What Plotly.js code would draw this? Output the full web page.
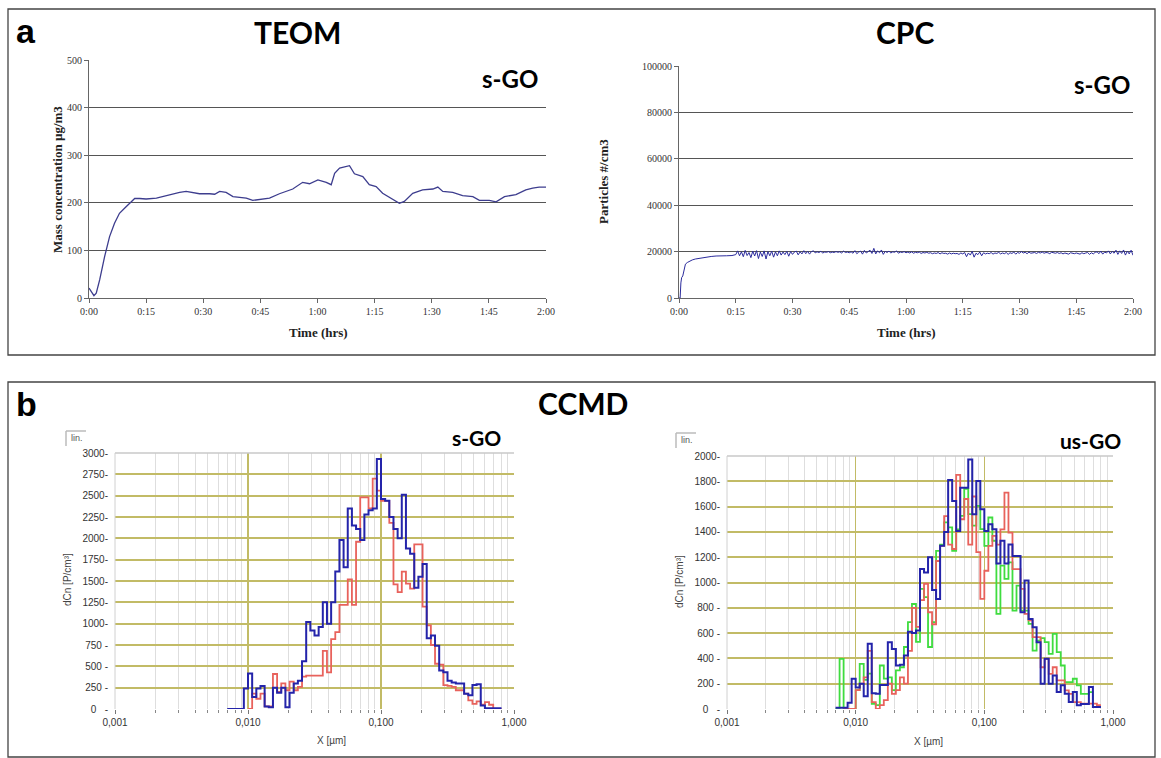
<!DOCTYPE html>
<html><head><meta charset="utf-8">
<script src="https://cdn.plot.ly/plotly-3.0.1.min.js"></script>
<style>html,body{margin:0;padding:0;background:#fff}#chart{width:1161px;height:758px}</style>
</head><body><div id="chart"></div>
<script>
// ---------- TEOM (mass concentration, µg/m3 vs minutes) ----------
const teomMin = [0,0.6,1.3,1.9,2.8,4.1,5.4,6.7,8.0,9.4,10.7,12.0,13.3,15.0,17.7,20.3,22.0,23.8,25.5,27.3,29.0,31.7,33.0,34.3,36.0,37.8,41.3,43.0,44.8,47.4,50.0,53.5,56.1,57.9,60.1,62.3,63.6,64.5,65.8,67.5,68.4,69.7,71.9,73.6,75.4,77.1,79.8,81.5,82.8,85.0,87.6,90.3,91.6,92.9,95.5,98.1,100.8,102.5,105.1,106.9,109.1,112.1,114.7,116.5,118.2,120];
const teomVal = [21,14,5,10,38,87,129,157,178,189,198,209,209,208,210,215,219,222,224,222,219,219,218,224,222,213,210,205,207,210,219,229,243,240,248,243,238,262,273,276,278,261,255,238,234,220,206,199,203,220,227,229,233,224,222,215,213,205,205,202,213,217,227,231,233,233];

// ---------- CPC (particles #/cm3) ----------
const cpcRampMin = [0,0.3,0.5,0.7,1.0,1.3,1.7,2.2,2.8,3.5,4.3,5.2,6.2,7.3,8.5,9.8,11.2,12.6,14.0,15.0];
const cpcRampVal = [0,0,6500,8800,9500,12200,14600,15300,15900,16400,16800,17100,17300,17600,17900,18100,18000,18200,18300,18700];
const cpcLogStartMin = 15.5;   // logged samples after the ramp
const cpcLogStepMin = 0.5;
const cpcLogVal = [
 20300,18200,19900,17800,20500,18300,19600,17400,20200,18100,
 20400,17000,19800,17900,20300,16800,20000,18200,20200,17600,
 19900,18200,20300,18500,19800,18700,20100,18000,20000,18800,
 19800,20200,18600,19900,19000,20400,19100,20100,18900,20000,
 20300,19500,19900,19600,20100,19400,19800,19700,20000,19500,
 19800,19600,20000,19700,19900,19400,20200,19600,19800,19500,
 19900,19300,20400,19100,19800,20200,18900,20500,19400,19900,
 20600,19200,21400,19000,20300,19500,20700,18800,20100,19600,
 20200,19400,19900,19700,20300,19300,19800,19600,20000,19500,
 19800,19400,19900,19300,19700,19500,19800,19200,19600,19400,
 19700,19300,19500,19100,19400,19200,19600,19000,19500,19200,
 19300,18900,19400,19000,19300,19100,19200,18800,19400,19000,
 19600,17800,19400,18500,20100,17600,19300,18700,19800,18200,
 19500,19000,19300,19100,19600,18900,19400,19200,19700,19000,
 19400,19100,19600,18800,19500,19200,19800,18900,19600,19300,
 20000,19400,19700,19100,19800,19300,19500,19600,19200,19700,
 19400,19800,19300,19600,19500,19100,19700,19400,19300,19600,
 19200,19500,19000,19400,19300,18900,19500,19200,19100,19400,
 19300,18900,19500,19100,19400,19600,18800,19500,19000,19700,
 19900,19100,20200,18900,19800,19400,20300,19000,20100,19300,
 20600,18800,20300,19200,20700,18500,20200,19000,20600,18400];

const timeTickVals = [0,15,30,45,60,75,90,105,120];
const timeTickText = ['0:00','0:15','0:30','0:45','1:00','1:15','1:30','1:45','2:00'];

// ---------- CCMD size distributions (dCn, P/cm3), 32 channels per decade ----------
const CHANNELS_PER_DECADE = 32;
const FIRST_CHANNEL = -69;   // lower edge of first channel = 10^(-69/32) µm
const sgoRed = [null,null,null,null,null, 0,180,120,180,30, 30,410,200,300,220, 320,220,260,380,390, 390,390,390,680,430, 820,900,1220,1220,1520, 1220,1960,2480,2480,2350, 2700,2560,2440,2440,2180, 1460,1370,1610,1470,1410, 1930,1930,1200,980,750, 530,520,280,270,260, 220,220,180,100,60, 90,50,80,50,0, 0];
const sgoBlue = [0,0,0,0,240, 415,140,240,270,30, 20,250,190,250,20, 190,300,330,560,1020, 920,860,960,1250,1000, 1250,1610,1980,1660,2350, 2150,2110,1980,2280,2330, 2350,2930,2460,2440,2250, 2110,2000,2510,1880,1820, 1420,1550,1700,830,860, 740,450,430,330,310, 300,300,180,160,280, 290,40,10,10,10, 10];
const usGreen = [0,397,0,0,0, 150,357,230,280,40, 30,344,240,250,150, 305,330,490,686,830, 530,950,885,490,686, 1250,1300,1475,1435,1250, 1420,1527,1740,1540,1450, 1606,1422,1290,1514,1330, 752,1133,1028,1159,778, 975,778,778,673,462, 541,560,528,436,594, 449,344,212,212,239, 187,120,120,134,16, 16];
const usRed = [null,null,0,0,0, 150,200,250,460,55, 0,30,70,200,120, 150,250,200,460,800, 650,860,990,765,670, 1170,1290,1525,1300,1265, 1850,1500,1660,1300,1680, 1240,870,1093,1290,1369, 1300,1420,1711,1395,1106, 1106,949,752,700,568, 568,330,397,278,330, 226,226,147,120,55, 55,42,42,42,42, 30];
const usBlue = [10,10,10,50,240, 170,200,100,515,125, 120,190,190,528,475, 344,350,423,610,600, 620,1106,1080,1200,940, 870,1290,1400,1810,1645, 1408,1750,1750,1973,1540, 1803,1580,1408,1461,1420, 1150,1330,1150,1300,1210, 1210,765,1015,712,646, 528,200,397,200,265, 134,187,120,55,134, 29,40,40,173,15, 15];

const sizeTickVals = [0.001,0.01,0.1,1];
const sizeTickText = ['0,001','0,010','0,100','1,000'];
const sizeMinorVals = [0.002,0.003,0.004,0.005,0.006,0.007,0.008,0.009,0.02,0.03,0.04,0.05,0.06,0.07,0.08,0.09,0.2,0.3,0.4,0.5,0.6,0.7,0.8,0.9];
const sgoYTickVals = [0,250,500,750,1000,1250,1500,1750,2000,2250,2500,2750,3000];
const usYTickVals = [0,200,400,600,800,1000,1200,1400,1600,1800,2000];

// ---------- helpers ----------
const W = 1161, H = 758;
const fx = p => p / W, fy = p => 1 - p / H;
const NB = '\u00a0';
function yLabel(v){ return v >= 1000 ? v + '-' : (v === 0 ? '0' + NB+NB+NB + '-' : v + NB + '-'); }

function stepXY(vals){
  const xs = [], ys = [];
  vals.forEach((v,i) => { xs.push(Math.pow(10,(FIRST_CHANNEL+i)/CHANNELS_PER_DECADE)); ys.push(v); });
  xs.push(Math.pow(10,(FIRST_CHANNEL+vals.length)/CHANNELS_PER_DECADE));
  ys.push(vals[vals.length-1]);
  return {x: xs, y: ys};
}

const cpcX = cpcRampMin.concat(cpcLogVal.map((_,i) => cpcLogStartMin + i*cpcLogStepMin));
const cpcY = cpcRampVal.concat(cpcLogVal);

const BLUE = '#2424aa', RED = '#e8625c', GREEN = '#3fdc3f';
const OLIVE = '#c2bb66';

function histTrace(vals, color, xa, ya, w){
  const s = stepXY(vals);
  return {x: s.x, y: s.y, xaxis: xa, yaxis: ya, type: 'scatter', mode: 'lines',
          line: {color: color, width: w, shape: 'hv'}, connectgaps: false, hoverinfo: 'skip'};
}

const traces = [
  {x: teomMin, y: teomVal, xaxis: 'x', yaxis: 'y', type: 'scatter', mode: 'lines', line: {color: '#3d3d8e', width: 1.3}},
  {x: cpcX, y: cpcY, xaxis: 'x2', yaxis: 'y2', type: 'scatter', mode: 'lines', line: {color: '#2b2b9c', width: 1}},
  histTrace(sgoRed, RED, 'x3', 'y3', 1.8),
  histTrace(sgoBlue, BLUE, 'x3', 'y3', 2),
  histTrace(usGreen, GREEN, 'x4', 'y4', 1.8),
  histTrace(usRed, RED, 'x4', 'y4', 1.8),
  histTrace(usBlue, BLUE, 'x4', 'y4', 2)
];

const serifTick = {family: 'Liberation Serif, Times New Roman, serif', size: 10, color: '#333'};
const sansTick = {family: 'Liberation Sans, Arial, sans-serif', size: 10, color: '#333'};

function timeAxis(d0, d1, anchor){
  return {domain: [fx(d0), fx(d1)], anchor: anchor, range: [0,120], tickmode: 'array',
    tickvals: timeTickVals, ticktext: timeTickText, showgrid: false, zeroline: false,
    showline: true, linecolor: '#666', linewidth: 1, ticks: 'outside', ticklen: 4, tickcolor: '#666',
    tickfont: serifTick, fixedrange: true};
}
function valueAxis(top, bottom, anchor, max, step){
  const vals = [], grid = [];
  for (let v = 0; v <= max; v += step){ vals.push(v); if (v > 0 && v < max) grid.push(v); }
  return {domain: [fy(bottom), fy(top)], anchor: anchor, range: [0,max], tickmode: 'array',
    tickvals: vals, tickformat: 'd', showgrid: false, zeroline: false, showline: true, linecolor: '#666', linewidth: 1,
    ticks: 'outside', ticklen: 4, tickcolor: '#666', tickfont: serifTick, fixedrange: true,
    minor: {tickmode: 'array', tickvals: grid, showgrid: true, gridcolor: '#555', gridwidth: 1.2, ticks: ''}};
}
function sizeAxis(d0, d1, anchor){
  return {domain: [fx(d0), fx(d1)], anchor: anchor, type: 'log', range: [-3,0], tickmode: 'array',
    tickvals: sizeTickVals, ticktext: sizeTickText, showgrid: true, gridcolor: OLIVE, gridwidth: 1.6,
    zeroline: false, showline: false, ticks: 'outside', ticklen: 4, tickcolor: '#777',
    tickfont: sansTick, fixedrange: true,
    minor: {tickmode: 'array', tickvals: sizeMinorVals, showgrid: true, gridcolor: '#dedede', gridwidth: 1,
            ticks: 'outside', ticklen: 3, tickcolor: '#888'}};
}
function countAxis(top, bottom, anchor, vals){
  const grid = vals.slice(1, vals.length-1);
  return {domain: [fy(bottom), fy(top)], anchor: anchor, range: [0, vals[vals.length-1]], tickmode: 'array',
    tickvals: vals, ticktext: vals.map(yLabel), showgrid: false, zeroline: false, showline: false,
    ticks: '', ticklabelstandoff: 6, tickfont: sansTick, fixedrange: true,
    minor: {tickmode: 'array', tickvals: grid, showgrid: true, gridcolor: OLIVE, gridwidth: 2, ticks: ''}};
}

function ann(text, x, y, font, extra){
  return Object.assign({text: text, x: fx(x), y: fy(y), xref: 'paper', yref: 'paper',
    showarrow: false, xanchor: 'center', yanchor: 'middle', font: font}, extra || {});
}
const bigFont = {family: 'Liberation Sans, Arial, sans-serif', size: 34, color: '#000', weight: 'bold'};
const titleFont = {family: 'Lato, Open Sans, sans-serif', size: 30, color: '#000', weight: 'bold'};
const tagFont = {family: 'Lato, Open Sans, sans-serif', size: 24, color: '#000', weight: 'bold'};
const tagFont2 = {family: 'Lato, Open Sans, sans-serif', size: 21, color: '#000', weight: 'bold'};
const axTitleSerif = {family: 'Liberation Serif, Times New Roman, serif', size: 13, color: '#222', weight: 'bold'};
const smallSans = {family: 'Liberation Sans, Arial, sans-serif', size: 10, color: '#444'};
const linFont = {family: 'Liberation Sans, Arial, sans-serif', size: 9, color: '#555'};

const annotations = [
  ann('a', 26, 31, bigFont),
  ann('b', 26, 404, bigFont),
  ann('TEOM', 297, 32, titleFont),
  ann('CPC', 905, 32, titleFont),
  ann('CCMD', 583, 403, titleFont),
  ann('s-GO', 510, 79, tagFont),
  ann('s-GO', 1102, 85, tagFont),
  ann('s-GO', 476, 437, tagFont2),
  ann('us-GO', 1090, 440, tagFont2),
  ann('Mass concentration µg/m3', 57, 180, axTitleSerif, {textangle: -90}),
  ann('Time (hrs)', 318, 333, axTitleSerif),
  ann('Particles #/cm3', 604, 182, axTitleSerif, {textangle: -90}),
  ann('Time (hrs)', 906, 333, axTitleSerif),
  ann('dCn [P/cm³]', 67, 580, smallSans, {textangle: -90}),
  ann('X [µm]', 331, 740, smallSans),
  ann('dCn [P/cm³]', 679, 582, smallSans, {textangle: -90}),
  ann('X [µm]', 928, 741, smallSans),
  ann('lin.', 77, 438, linFont),
  ann('lin.', 687, 440, linFont)
];

function pline(x0, y0, x1, y1, color, w){
  return {type: 'line', xref: 'paper', yref: 'paper', x0: fx(x0), y0: fy(y0), x1: fx(x1), y1: fy(y1),
          line: {color: color, width: w}};
}
function prect(x0, y0, x1, y1){
  return {type: 'rect', xref: 'paper', yref: 'paper', x0: fx(x0), y0: fy(y0), x1: fx(x1), y1: fy(y1),
          line: {color: '#444', width: 1.3}, fillcolor: 'rgba(0,0,0,0)'};
}
function frameTop(xa, ya){
  return {type: 'line', xref: xa + ' domain', yref: ya + ' domain', x0: 0, x1: 1, y0: 1, y1: 1,
          line: {color: '#c8c8c8', width: 1.3}};
}
function frameLeft(xa, ya){
  return {type: 'line', xref: xa + ' domain', yref: ya + ' domain', x0: 0, x1: 0, y0: 0, y1: 1,
          line: {color: '#d0d0d0', width: 1}};
}

const shapes = [
  prect(8, 9, 1155, 355),
  prect(8, 382, 1155, 757),
  frameTop('x3','y3'), frameLeft('x3','y3'),
  frameTop('x4','y4'), frameLeft('x4','y4'),
  pline(66, 431, 86, 431, '#bbb', 1.5), pline(66, 431, 66, 446, '#bbb', 1.5),
  pline(676, 433, 696, 433, '#bbb', 1.5), pline(676, 433, 676, 448, '#bbb', 1.5)
];

const layout = {
  width: W, height: H, margin: {l: 0, r: 0, t: 0, b: 0},
  paper_bgcolor: '#fff', plot_bgcolor: 'rgba(0,0,0,0)', showlegend: false,
  xaxis: timeAxis(89, 546, 'y'),
  yaxis: valueAxis(60, 298, 'x', 500, 100),
  xaxis2: timeAxis(679, 1133, 'y2'),
  yaxis2: valueAxis(66, 298, 'x2', 100000, 20000),
  xaxis3: sizeAxis(115, 514, 'y3'),
  yaxis3: countAxis(453, 709, 'x3', sgoYTickVals),
  xaxis4: sizeAxis(727, 1113, 'y4'),
  yaxis4: countAxis(456, 709, 'x4', usYTickVals),
  annotations: annotations,
  shapes: shapes
};

Plotly.newPlot('chart', traces, layout, {displayModeBar: false, staticPlot: true});
</script></body></html>
